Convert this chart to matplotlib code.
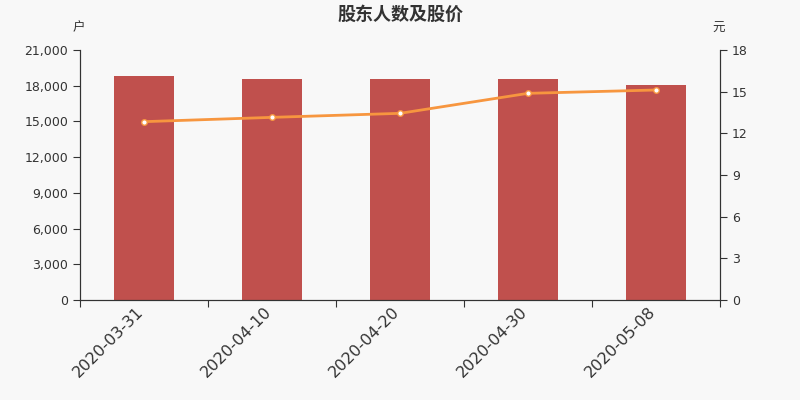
import numpy as np
import matplotlib.pyplot as plt
import matplotlib.transforms as mtransforms
from matplotlib.ticker import FuncFormatter

plt.rcParams['font.family'] = ['DejaVu Sans', 'Noto Sans CJK SC']

dates = ['2020-03-31', '2020-04-10', '2020-04-20', '2020-04-30', '2020-05-08']
holders = [18800, 18550, 18600, 18560, 18100]  # 户
price = [12.84, 13.15, 13.44, 14.88, 15.12]  # 元

bg = '#f8f8f8'
txt = '#333333'

fig = plt.figure(figsize=(8, 4), dpi=100, facecolor=bg)
ax = fig.add_axes([0.1, 0.25, 0.8, 0.625], facecolor=bg)
ax2 = ax.twinx()

x = np.arange(len(dates))
ax.bar(x, holders, width=0.47, color='#c0504d', zorder=2)
ax2.plot(x, price, color='#f7963f', lw=2, marker='o', ms=4,
         mfc='white', mec='#f7963f', mew=1, zorder=3)

ax.set_xlim(-0.5, len(dates) - 0.5)
ax.set_ylim(0, 21000)
ax.set_yticks(np.arange(0, 21001, 3000))
ax.yaxis.set_major_formatter(FuncFormatter(lambda v, p: '{:,.0f}'.format(v)))
ax2.set_ylim(0, 18)
ax2.set_yticks(np.arange(0, 19, 3))

ax.set_xticks(np.arange(-0.5, len(dates), 1.0))
ax.set_xticklabels([])
ax.set_xticks(x, minor=True)
ax.set_xticklabels(dates, minor=True, rotation=45, ha='right',
                   rotation_mode='anchor', fontsize=11.5, color=txt)
ax.tick_params(axis='x', which='minor', length=0, pad=3)
ax.tick_params(axis='x', which='major', length=5, color=txt)
ax.tick_params(axis='y', length=5, color=txt, labelsize=9, labelcolor=txt)
ax2.tick_params(axis='y', length=5, color=txt, labelsize=9, labelcolor=txt)

shift = mtransforms.ScaledTranslation(-6 / 72, 0, fig.dpi_scale_trans)
for lab in ax.get_xticklabels(minor=True):
    lab.set_transform(lab.get_transform() + shift)

for a in (ax, ax2):
    a.spines['top'].set_visible(False)
    for s in ('left', 'right', 'bottom'):
        a.spines[s].set_color(txt)

fig.text(0.5, 0.965, '股东人数及股价', ha='center', va='center', fontsize=13,
         fontweight='bold', color=txt, family='Noto Sans CJK SC')
fig.text(0.098, 0.93, '户', ha='center', va='center', fontsize=9, color=txt,
         family='Noto Sans CJK SC')
fig.text(0.898, 0.93, '元', ha='center', va='center', fontsize=9, color=txt,
         family='Noto Sans CJK SC')

fig.savefig('out.png', dpi=100, facecolor=bg)
